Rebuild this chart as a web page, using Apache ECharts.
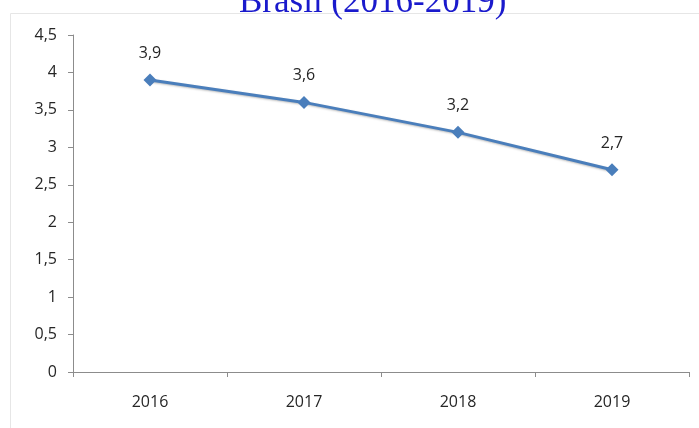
<!DOCTYPE html>
<html>
<head>
<meta charset="utf-8">
<script src="https://cdn.jsdelivr.net/npm/echarts@6/dist/echarts.min.js"></script>
<style>
html,body{margin:0;padding:0;background:#fff;}
#chart{width:699px;height:428px;}
</style>
</head>
<body>
<div id="chart"></div>
<script>
const titleText = 'Brasil (2016-2019)';
const categories = ['2016', '2017', '2018', '2019'];
const values = [3.9, 3.6, 3.2, 2.7];
const yMin = 0, yMax = 4.5, yStep = 0.5;

const fmt = v => String(v).replace('.', ',');
const chart = echarts.init(document.getElementById('chart'));
chart.setOption({
  animation: false,
  backgroundColor: '#fff',
  title: {
    text: titleText,
    left: 234,
    top: -20,
    textStyle: {fontFamily: 'Liberation Serif', fontSize: 35, fontWeight: 'normal', color: '#1a1acc'}
  },
  graphic: [
    {type: 'line', shape: {x1: 10.5, y1: 13.5, x2: 699, y2: 13.5}, style: {stroke: '#e6e6e6', lineWidth: 1}, z: -1},
    {type: 'line', shape: {x1: 10.5, y1: 13.5, x2: 10.5, y2: 428}, style: {stroke: '#e6e6e6', lineWidth: 1}, z: -1}
  ],
  grid: {left: 73, right: 10, top: 35, bottom: 56},
  xAxis: {
    type: 'category',
    data: categories,
    boundaryGap: true,
    axisLine: {lineStyle: {color: '#8c8c8c', width: 1}},
    axisTick: {show: true, length: 5, alignWithLabel: false, lineStyle: {color: '#8c8c8c'}},
    axisLabel: {margin: 22, fontFamily: 'Open Sans', fontSize: 16, color: '#262626'}
  },
  yAxis: {
    type: 'value',
    min: yMin, max: yMax, interval: yStep,
    splitLine: {show: false},
    axisLine: {show: true, lineStyle: {color: '#8c8c8c', width: 1}},
    axisTick: {show: true, length: 5, lineStyle: {color: '#8c8c8c'}},
    axisLabel: {margin: 16, fontFamily: 'Open Sans', fontSize: 16, color: '#262626', formatter: fmt}
  },
  series: [{
    type: 'line',
    data: values,
    symbol: 'diamond',
    symbolSize: 13,
    lineStyle: {color: '#4a7ebb', width: 3, shadowColor: 'rgba(0,0,0,0.25)', shadowBlur: 2, shadowOffsetY: 1},
    itemStyle: {color: '#4a7ebb'},
    label: {show: true, position: 'top', distance: 12, fontFamily: 'Open Sans', fontSize: 16, color: '#262626', formatter: p => fmt(p.value)}
  }]
});
</script>
</body>
</html>
